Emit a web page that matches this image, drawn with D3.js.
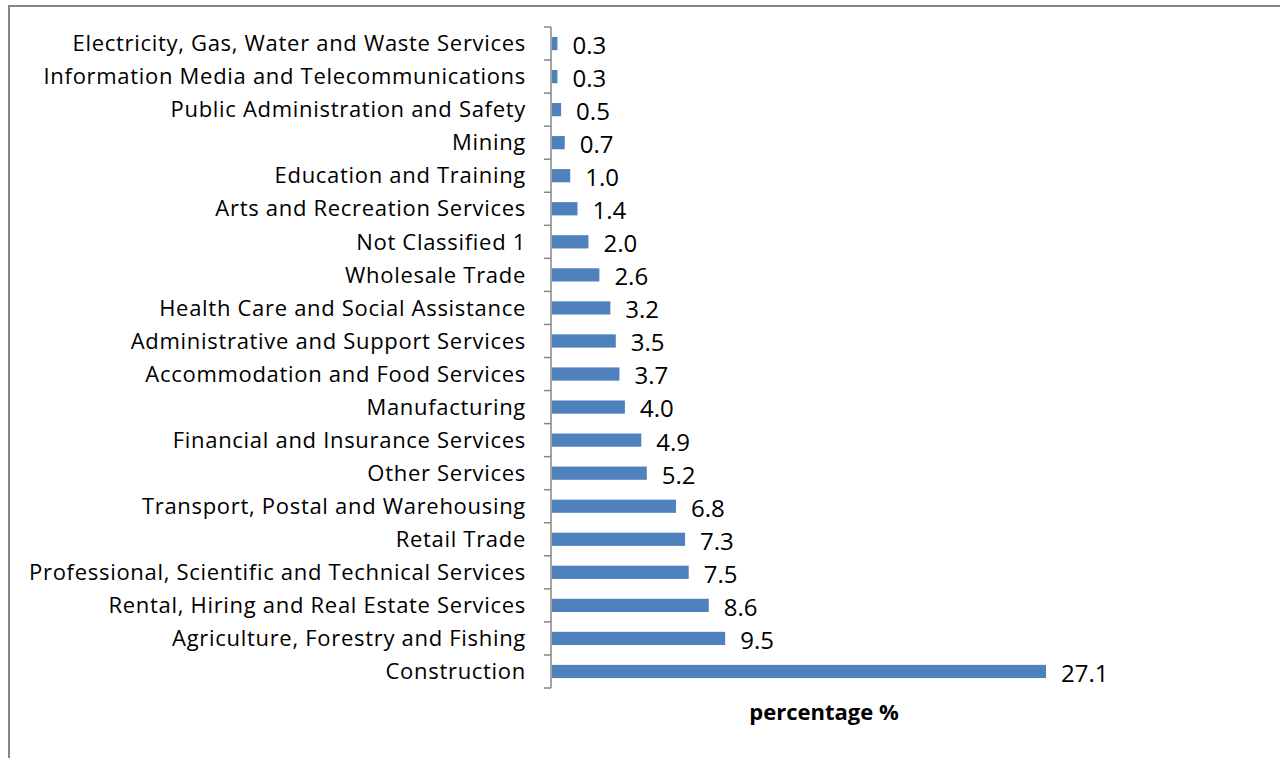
<!DOCTYPE html>
<html><head><meta charset="utf-8">
<script src="https://cdn.jsdelivr.net/npm/d3@7"></script>
<style>body{margin:0;background:#fff;}svg{display:block;}</style>
</head><body>
<script>
const categories = ["Electricity, Gas, Water and Waste Services","Information Media and Telecommunications","Public Administration and Safety","Mining","Education and Training","Arts and Recreation Services","Not Classified 1","Wholesale Trade","Health Care and Social Assistance","Administrative and Support Services","Accommodation and Food Services","Manufacturing","Financial and Insurance Services","Other Services","Transport, Postal and Warehousing","Retail Trade","Professional, Scientific and Technical Services","Rental, Hiring and Real Estate Services","Agriculture, Forestry and Fishing","Construction"];
const values = [0.3,0.3,0.5,0.7,1.0,1.4,2.0,2.6,3.2,3.5,3.7,4.0,4.9,5.2,6.8,7.3,7.5,8.6,9.5,27.1];
const axisTitle = "percentage %";

const W = 1280, H = 758;
const svg = d3.select("body").append("svg").attr("width", W).attr("height", H);
const font = "'Open Sans', sans-serif";

// frame
svg.append("path").attr("d", `M9,${H+2} V6 H${W+2}`).attr("fill","none").attr("stroke","#868686").attr("stroke-width",2);

const x0 = 551, y0 = 27, y1 = 688;
const x = d3.scaleLinear().domain([0, 27.1]).range([x0, 1045]);
const y = d3.scaleBand().domain(categories).range([y0, y1]).paddingInner(0.6).paddingOuter(0.3);

// bars
svg.selectAll("rect.bar").data(values).join("rect")
  .attr("x", x(0)+1)
  .attr("y", (d,i)=>y(categories[i]))
  .attr("width", d=>x(d)-x(0))
  .attr("height", y.bandwidth())
  .attr("fill","#4F81BD");

// axis line and ticks
const band = (y1-y0)/categories.length;
const g = svg.append("g").attr("stroke","#868686").attr("stroke-width",1.5);
g.append("line").attr("x1",x0).attr("x2",x0).attr("y1",y0).attr("y2",y1);
d3.range(categories.length+1).forEach(i=>{
  g.append("line").attr("x1",x0-7).attr("x2",x0).attr("y1",y0+i*band).attr("y2",y0+i*band);
});

// category labels
svg.selectAll("text.cat").data(categories).join("text")
  .attr("x", 526).attr("y", d=>y(d)+y.bandwidth()/2)
  .attr("dy","0.35em").attr("text-anchor","end")
  .attr("font-family",font).attr("font-size",22).attr("letter-spacing","0.7px").attr("fill","#000")
  .text(d=>d);

// value labels
svg.selectAll("text.val").data(values).join("text")
  .attr("x", d=>x(d)+16).attr("y", (d,i)=>y(categories[i])+y.bandwidth()/2+2)
  .attr("dy","0.35em")
  .attr("font-family",font).attr("font-size",24).attr("fill","#000")
  .text(d=>d.toFixed(1));

svg.append("text").attr("x",824).attr("y",720).attr("text-anchor","middle")
  .attr("font-family",font).attr("font-size",22).attr("font-weight","bold").text(axisTitle);
</script>
</body></html>
